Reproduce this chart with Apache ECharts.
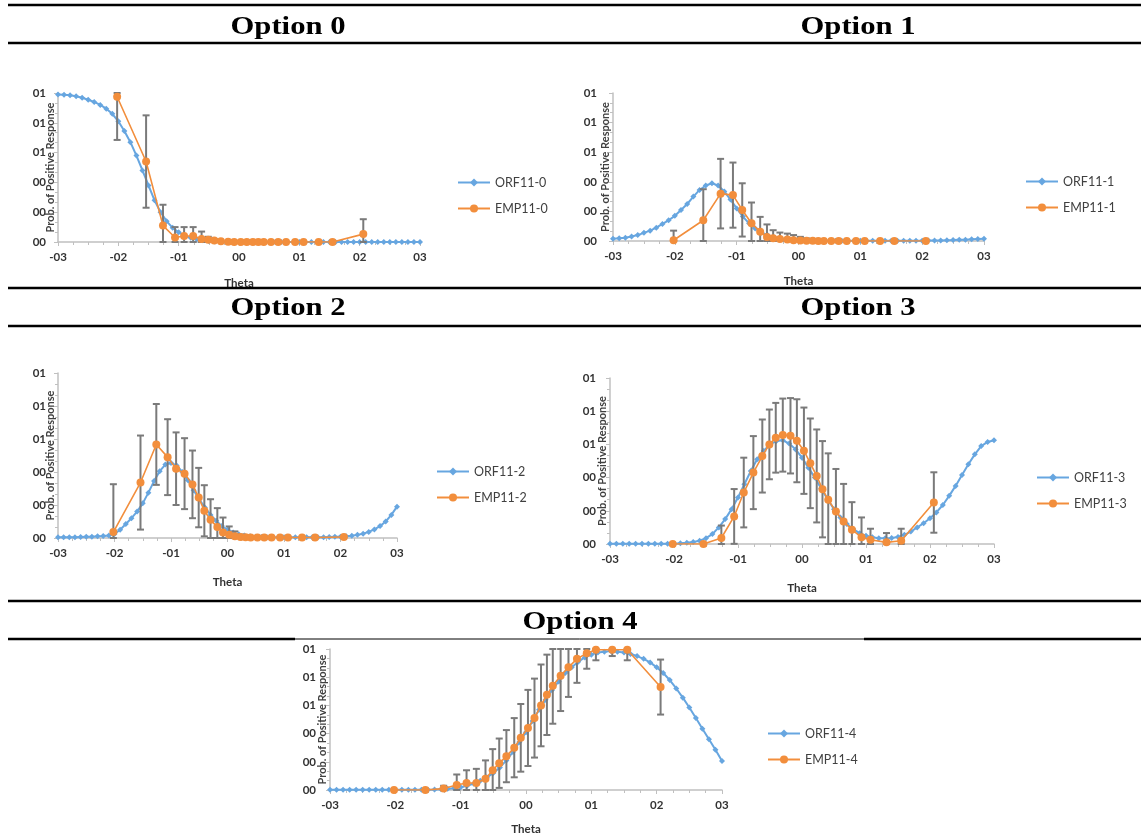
<!DOCTYPE html>
<html>
<head>
<meta charset="utf-8">
<script src="https://cdn.jsdelivr.net/npm/echarts@6/dist/echarts.min.js"></script>
<style>html,body{margin:0;padding:0;background:#fff}#c{width:1141px;height:836px}</style>
</head>
<body>
<div id="c"></div>
<script>
// ---------- DATA ----------
const titles = ['Option 0', 'Option 1', 'Option 2', 'Option 3', 'Option 4'];
const orfNames = ['ORF11-0', 'ORF11-1', 'ORF11-2', 'ORF11-3', 'ORF11-4'];
const empNames = ['EMP11-0', 'EMP11-1', 'EMP11-2', 'EMP11-3', 'EMP11-4'];
const xTickLabels = ['-03', '-02', '-01', '00', '01', '02', '03'];
const yTickLabels = ['00', '00', '00', '01', '01', '01'];
const xAxisName = 'Theta';
const yAxisName = 'Prob. of Positive Response';

const orfTheta = [-3.0, -2.9, -2.8, -2.7, -2.6, -2.5, -2.4, -2.3, -2.2, -2.1, -2.0, -1.9, -1.8, -1.7, -1.6, -1.5, -1.4, -1.3, -1.2, -1.1,
  -1.0, -0.9, -0.8, -0.7, -0.6, -0.5, -0.4, -0.3, -0.2, -0.1, 0.0, 0.1, 0.2, 0.3, 0.4, 0.5, 0.6, 0.7, 0.8, 0.9,
  1.0, 1.1, 1.2, 1.3, 1.4, 1.5, 1.6, 1.7, 1.8, 1.9, 2.0, 2.1, 2.2, 2.3, 2.4, 2.5, 2.6, 2.7, 2.8, 2.9, 3.0];

const orf0 = [0.99, 0.988, 0.985, 0.978, 0.968, 0.955, 0.94, 0.92, 0.895, 0.86, 0.81, 0.745, 0.67, 0.58, 0.48, 0.38, 0.28, 0.2, 0.14, 0.095,
  0.065, 0.042, 0.028, 0.018, 0.011, 0.007, 0.004, 0.003, 0.002, 0.001, 0.001, 0, 0, 0, 0, 0, 0, 0, 0, 0,
  0, 0, 0, 0, 0, 0, 0, 0, 0, 0, 0, 0, 0, 0, 0, 0, 0, 0, 0, 0, 0];
const orf1 = [0.015, 0.018, 0.022, 0.03, 0.04, 0.055, 0.07, 0.09, 0.115, 0.14, 0.17, 0.21, 0.25, 0.3, 0.345, 0.375, 0.39, 0.375, 0.335, 0.28,
  0.22, 0.165, 0.12, 0.085, 0.058, 0.04, 0.027, 0.018, 0.012, 0.008, 0.005, 0.004, 0.003, 0.003, 0.002, 0.002, 0.002, 0.002, 0.002, 0.002,
  0.002, 0.002, 0.002, 0.002, 0.002, 0.002, 0.002, 0.002, 0.002, 0.002, 0.002, 0.003, 0.003, 0.004, 0.005, 0.006, 0.008, 0.009, 0.011, 0.013, 0.015];
const orf2 = [0.004, 0.004, 0.005, 0.005, 0.006, 0.007, 0.008, 0.01, 0.012, 0.015, 0.025, 0.05, 0.085, 0.12, 0.16, 0.21, 0.275, 0.345, 0.405, 0.445,
  0.455, 0.44, 0.4, 0.35, 0.29, 0.235, 0.185, 0.14, 0.105, 0.072, 0.05, 0.034, 0.022, 0.015, 0.01, 0.008, 0.006, 0.005, 0.005, 0.005,
  0.004, 0.004, 0.004, 0.004, 0.004, 0.004, 0.005, 0.005, 0.006, 0.007, 0.008, 0.01, 0.014, 0.019, 0.026, 0.037, 0.052, 0.072, 0.1, 0.14, 0.19];
const orf3 = [0.002, 0.002, 0.002, 0.002, 0.002, 0.002, 0.002, 0.002, 0.002, 0.002, 0.002, 0.004, 0.007, 0.012, 0.02, 0.035, 0.06, 0.1, 0.15, 0.21,
  0.28, 0.36, 0.44, 0.51, 0.56, 0.6, 0.62, 0.625, 0.605, 0.57, 0.52, 0.46, 0.4, 0.335, 0.27, 0.21, 0.16, 0.12, 0.09, 0.065,
  0.05, 0.04, 0.035, 0.034, 0.036, 0.042, 0.055, 0.075, 0.1, 0.125, 0.155, 0.19, 0.235, 0.29, 0.35, 0.415, 0.48, 0.54, 0.59, 0.615, 0.625];
const orf4 = [0.001, 0.001, 0.001, 0.001, 0.001, 0.001, 0.001, 0.001, 0.001, 0.001, 0.001, 0.001, 0.001, 0.001, 0.001, 0.002, 0.003, 0.005, 0.008, 0.012,
  0.02, 0.03, 0.045, 0.065, 0.09, 0.12, 0.16, 0.21, 0.27, 0.34, 0.41, 0.49, 0.57, 0.64, 0.71, 0.77, 0.83, 0.87, 0.91, 0.94,
  0.96, 0.975, 0.98, 0.985, 0.98, 0.975, 0.965, 0.95, 0.93, 0.905, 0.87, 0.83, 0.78, 0.72, 0.655, 0.585, 0.51, 0.435, 0.36, 0.285, 0.205];

const empTheta = [-2.02, -1.54, -1.26, -1.06, -0.91, -0.76, -0.62, -0.51, -0.41, -0.30, -0.18, -0.08, 0.03, 0.13, 0.23, 0.32, 0.41, 0.53, 0.65, 0.78, 0.93, 1.07, 1.32, 1.55, 2.06];

const emp0 = [0.975, 0.54, 0.11, 0.03, 0.04, 0.04, 0.02, 0.015, 0.01, 0.005, 0.002, 0, 0, 0, 0, 0, 0, 0, 0, 0, 0, 0, 0, 0, 0.053];
const err0 = [0.29, 0.31, 0.14, 0.07, 0.06, 0.06, 0.05, 0.02, 0.01, 0, 0, 0, 0, 0, 0, 0, 0, 0, 0, 0, 0, 0, 0, 0, 0.1];
const emp1 = [0.005, 0.14, 0.32, 0.31, 0.21, 0.12, 0.063, 0.027, 0.018, 0.014, 0.01, 0.005, 0.003, 0.002, 0.001, 0, 0, 0, 0, 0, 0, 0, 0, 0, 0];
const err1 = [0.065, 0.21, 0.235, 0.22, 0.18, 0.14, 0.1, 0.085, 0.055, 0.043, 0.04, 0.035, 0.025, 0.015, 0.01, 0, 0, 0, 0, 0, 0, 0, 0, 0, 0];
const emp2 = [0.036, 0.336, 0.567, 0.49, 0.42, 0.39, 0.325, 0.245, 0.165, 0.11, 0.066, 0.034, 0.02, 0.01, 0.006, 0.004, 0.003, 0.003, 0.003, 0.003, 0.003, 0.003, 0.003, 0.003, 0.006];
const err2 = [0.29, 0.285, 0.245, 0.23, 0.22, 0.215, 0.205, 0.18, 0.155, 0.125, 0.115, 0.09, 0.05, 0.03, 0.015, 0, 0, 0, 0, 0, 0, 0, 0, 0, 0];
const emp3 = [0, 0, 0.036, 0.166, 0.31, 0.43, 0.53, 0.60, 0.64, 0.656, 0.652, 0.622, 0.562, 0.486, 0.41, 0.33, 0.266, 0.196, 0.136, 0.086, 0.04, 0.026, 0.01, 0.02, 0.25];
const err3 = [0, 0, 0.075, 0.165, 0.21, 0.22, 0.22, 0.21, 0.21, 0.22, 0.227, 0.25, 0.26, 0.27, 0.28, 0.29, 0.28, 0.256, 0.226, 0.166, 0.12, 0.066, 0.056, 0.072, 0.182];
const emp4 = [0, 0, 0.01, 0.035, 0.05, 0.05, 0.08, 0.14, 0.19, 0.24, 0.30, 0.37, 0.44, 0.51, 0.60, 0.675, 0.74, 0.81, 0.87, 0.93, 0.97, 0.995, 0.995, 0.995, 0.73];
const err4 = [0, 0, 0.02, 0.075, 0.09, 0.10, 0.13, 0.15, 0.175, 0.185, 0.21, 0.24, 0.27, 0.28, 0.29, 0.285, 0.27, 0.25, 0.21, 0.17, 0.11, 0.075, 0.045, 0.075, 0.195];

const orfSets = [orf0, orf1, orf2, orf3, orf4];
const empSets = [emp0, emp1, emp2, emp3, emp4];
const errSets = [err0, err1, err2, err3, err4];

// ---------- LAYOUT ----------
const layout = [
  { grid: { left: 58, top: 93, width: 362, height: 149 }, legend: { left: 452, top: 171 }, title: [288, 27], xGap: 35, yLblMargin: 12 },
  { grid: { left: 613, top: 93, width: 371, height: 148 }, legend: { left: 1020, top: 170 }, title: [858, 27], xGap: 34, yLblMargin: 16 },
  { grid: { left: 58, top: 373, width: 339, height: 165 }, legend: { left: 431, top: 460 }, title: [288, 308], xGap: 38, yLblMargin: 12 },
  { grid: { left: 610, top: 378, width: 384, height: 166 }, legend: { left: 1031, top: 466 }, title: [858, 308], xGap: 38, yLblMargin: 14 },
  { grid: { left: 330, top: 649, width: 392, height: 141 }, legend: { left: 762, top: 722 }, title: [580, 622], xGap: 33, yLblMargin: 14 }
];

const BLUE = '#67a6e0';
const ORANGE = '#f28e3c';
const GRAYTXT = '#333333';
const AXIS = '#c0c0c0';
const FONT = 'Lato, "Open Sans", sans-serif';

const grids = [], xAxes = [], yAxes = [], series = [], legends = [], graphics = [];

layout.forEach((L, i) => {
  grids.push(Object.assign({ containLabel: false }, L.grid));
  xAxes.push({
    type: 'value', gridIndex: i, min: -3, max: 3, interval: 1,
    name: xAxisName, nameLocation: 'middle', nameGap: L.xGap, nameMoveOverlap: false,
    nameTextStyle: { fontFamily: FONT, fontWeight: 'bold', fontSize: 11.5, color: GRAYTXT },
    axisLine: { show: true, onZero: false, lineStyle: { color: AXIS, width: 1.5 } },
    axisTick: { show: true, length: 4, lineStyle: { color: AXIS } },
    minorTick: { show: true, splitNumber: 4, length: 3, lineStyle: { color: AXIS } },
    splitLine: { show: false },
    axisLabel: { margin: 9, fontFamily: FONT, fontWeight: 'bold', fontSize: 11.5, color: GRAYTXT,
      formatter: v => xTickLabels[Math.round(v + 3)] }
  });
  yAxes.push({
    type: 'value', gridIndex: i, min: 0, max: 1, interval: 0.2,
    name: yAxisName, nameLocation: 'middle', nameGap: 2, nameRotate: 90, nameMoveOverlap: false,
    nameTextStyle: { fontFamily: FONT, fontWeight: 'bold', fontSize: 11, color: '#404040' },
    axisLine: { show: true, onZero: false, lineStyle: { color: AXIS, width: 1.5 } },
    axisTick: { show: true, length: 4, lineStyle: { color: AXIS } },
    minorTick: { show: true, splitNumber: 3, length: 3, lineStyle: { color: AXIS } },
    splitLine: { show: false },
    axisLabel: { margin: L.yLblMargin, fontFamily: FONT, fontWeight: 'bold', fontSize: 11.5, color: GRAYTXT,
      formatter: v => yTickLabels[Math.round(v * 5)] }
  });

  series.push({
    name: orfNames[i], type: 'line', xAxisIndex: i, yAxisIndex: i,
    data: orfTheta.map((t, k) => [t, orfSets[i][k]]),
    symbol: 'diamond', symbolSize: 6, showAllSymbol: true,
    lineStyle: { color: BLUE, width: 2 }, itemStyle: { color: BLUE },
    z: 2, animation: false
  });
  series.push({
    name: 'err' + i, type: 'custom', xAxisIndex: i, yAxisIndex: i,
    data: empTheta.map((t, k) => [t, empSets[i][k], errSets[i][k]]),
    encode: { x: 0, y: 1 },
    z: 3, animation: false, silent: true,
    renderItem: function (params, api) {
      const x = api.value(0), y = api.value(1), e = api.value(2);
      if (!(e > 0)) return null;
      const hi = Math.min(1, y + e), lo = Math.max(0, y - e);
      const p1 = api.coord([x, hi]), p2 = api.coord([x, lo]);
      const st = { stroke: '#7a7a7a', lineWidth: 2 };
      return { type: 'group', children: [
        { type: 'line', shape: { x1: p1[0], y1: p1[1], x2: p2[0], y2: p2[1] }, style: st },
        { type: 'line', shape: { x1: p1[0] - 3.5, y1: p1[1], x2: p1[0] + 3.5, y2: p1[1] }, style: st },
        { type: 'line', shape: { x1: p2[0] - 3.5, y1: p2[1], x2: p2[0] + 3.5, y2: p2[1] }, style: st }
      ] };
    }
  });
  series.push({
    name: empNames[i], type: 'line', xAxisIndex: i, yAxisIndex: i,
    data: empTheta.map((t, k) => [t, empSets[i][k]]),
    symbol: 'circle', symbolSize: 8, showAllSymbol: true,
    lineStyle: { color: ORANGE, width: 1.6 }, itemStyle: { color: ORANGE },
    z: 4, animation: false
  });

  legends.push({
    orient: 'vertical', left: L.legend.left, top: L.legend.top,
    data: [orfNames[i], empNames[i]],
    itemWidth: 32, itemHeight: 10, itemGap: 13,
    selectedMode: false,
    textStyle: { fontFamily: FONT, fontSize: 12.5, color: '#404040' }
  });

  graphics.push({
    type: 'text', x: L.title[0], y: L.title[1], scaleX: 1.18, z: 10,
    style: { text: titles[i], font: 'bold 26px "Liberation Serif", "DejaVu Serif", serif',
      fill: '#000', textAlign: 'center', textVerticalAlign: 'middle', align: 'center', verticalAlign: 'middle' }
  });
});

// rule lines
const rules = [
  [8, 5, 1141, 5, 2.5], [8, 43, 1141, 43, 2.5], [8, 288, 1141, 288, 2.5], [8, 326, 1141, 326, 2.5],
  [8, 601, 1141, 601, 2.5], [8, 639, 295, 639, 2.5], [295, 639, 864, 639, 1], [864, 639, 1141, 639, 2.5]
];
rules.forEach(r => graphics.push({
  type: 'line', z: 10, shape: { x1: r[0], y1: r[1], x2: r[2], y2: r[3] },
  style: { stroke: '#000', lineWidth: r[4] }
}));

const chart = echarts.init(document.getElementById('c'), null, { renderer: 'canvas' });
chart.setOption({
  backgroundColor: '#fff',
  animation: false,
  grid: grids, xAxis: xAxes, yAxis: yAxes, series: series, legend: legends,
  graphic: graphics
});
</script>
</body>
</html>
